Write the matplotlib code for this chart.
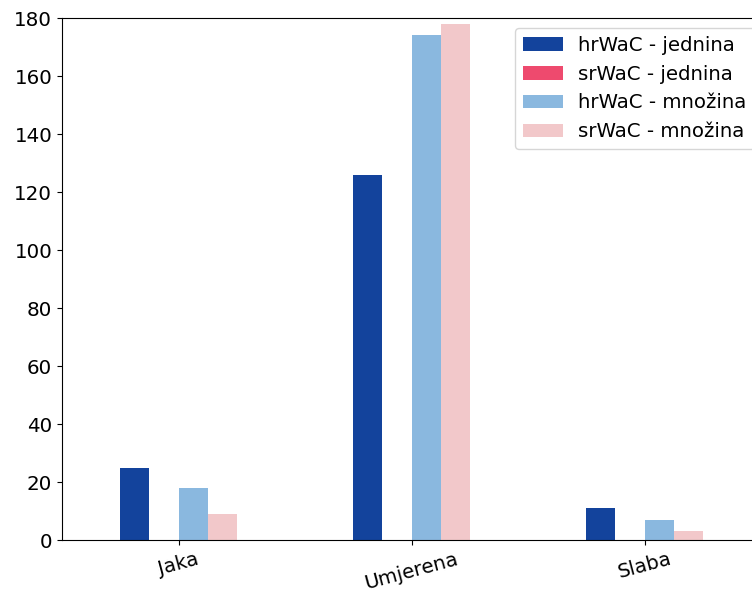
import numpy as np
import matplotlib
matplotlib.use("Agg")
import matplotlib.pyplot as plt

categories = ["Jaka", "Umjerena", "Slaba"]
series_names = ["hrWaC - jednina", "srWaC - jednina", "hrWaC - množina", "srWaC - množina"]
hr_jednina = [25, 126, 11]
sr_jednina = [0, 0, 0]
hr_mnozina = [18, 174, 7]
sr_mnozina = [9, 178, 3]
colors = ["#13439c", "#ee4a6e", "#8ab8df", "#f2c8ca"]

values = [hr_jednina, sr_jednina, hr_mnozina, sr_mnozina]

fig = plt.figure(figsize=(7.52, 5.94), dpi=100)
# axes run a little past the right edge of the canvas
ax = fig.add_axes([62 / 752, 54 / 594, 699 / 752, 522 / 594])

x = np.arange(len(categories))
width = 0.125
for i, (name, vals, c) in enumerate(zip(series_names, values, colors)):
    ax.bar(x + (i - 1.5) * width, vals, width, label=name, color=c)

ax.set_xlim(-0.5, 2.5)
ax.set_ylim(0, 180)
ax.set_yticks(range(0, 181, 20))
ax.set_xticks(x)
ax.set_xticklabels(categories, rotation=15)
ax.tick_params(labelsize=14.3)
ax.legend(loc="upper right", bbox_to_anchor=(1.005, 1.0), fontsize=14.2)

fig.savefig("out.png", dpi=100)
